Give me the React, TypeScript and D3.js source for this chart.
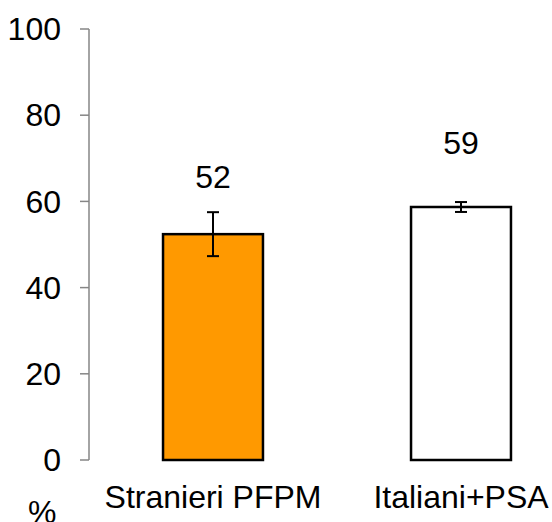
import React from "react";
import * as d3 from "d3";

const categories = ["Stranieri PFPM", "Italiani+PSA"];
const values = [52.4, 58.7];
const errors = [5.1, 1.15];
const valueLabels = ["52", "59"];
const labelAt = [63, 71];
const barColors = ["#FF9900", "#FFFFFF"];
const yTicks = [0, 20, 40, 60, 80, 100];
const yUnit = "%";

const W = 552;
const H = 522;
const FONT = "'Liberation Sans', Arial, sans-serif";

export default function App() {
  const y = d3.scaleLinear().domain([0, 100]).range([460, 29]);
  const x = d3
    .scaleBand<string>()
    .domain(categories)
    .range([89, 585])
    .paddingInner(0.597)
    .paddingOuter(0.2985);
  const bw = x.bandwidth();
  const axisX = 89;

  return (
    <svg
      width={W}
      height={H}
      style={{ position: "absolute", left: 0, top: 0, background: "#fff" }}
      fontFamily={FONT}
    >
      {/* y axis */}
      <line x1={axisX} x2={axisX} y1={y(100)} y2={y(0)} stroke="#868686" strokeWidth={1.5} />
      {yTicks.map((t) => (
        <g key={t}>
          <line x1={axisX - 9} x2={axisX} y1={y(t)} y2={y(t)} stroke="#868686" strokeWidth={1.5} />
          <text x={61} y={y(t)} dy="0.35em" textAnchor="end" fontSize={32} fill="#000">
            {t}
          </text>
        </g>
      ))}
      {/* bars */}
      {categories.map((c, i) => {
        const x0 = x(c)!;
        const cx = x0 + bw / 2;
        return (
          <g key={c}>
            <rect
              x={x0}
              y={y(values[i])}
              width={bw}
              height={y(0) - y(values[i])}
              fill={barColors[i]}
              stroke="#000"
              strokeWidth={2.5}
            />
            <line x1={cx} x2={cx} y1={y(values[i] + errors[i])} y2={y(values[i] - errors[i])} stroke="#000" strokeWidth={2} />
            <line x1={cx - 6} x2={cx + 6} y1={y(values[i] + errors[i])} y2={y(values[i] + errors[i])} stroke="#000" strokeWidth={2} />
            <line x1={cx - 6} x2={cx + 6} y1={y(values[i] - errors[i])} y2={y(values[i] - errors[i])} stroke="#000" strokeWidth={2} />
            <text x={cx} y={y(labelAt[i])} textAnchor="middle" fontSize={32} fill="#000">
              {valueLabels[i]}
            </text>
            <text x={cx} y={508} textAnchor="middle" fontSize={32} fill="#000">
              {c}
            </text>
          </g>
        );
      })}
      <text x={28} y={523} fontSize={32} fill="#000">
        {yUnit}
      </text>
    </svg>
  );
}
